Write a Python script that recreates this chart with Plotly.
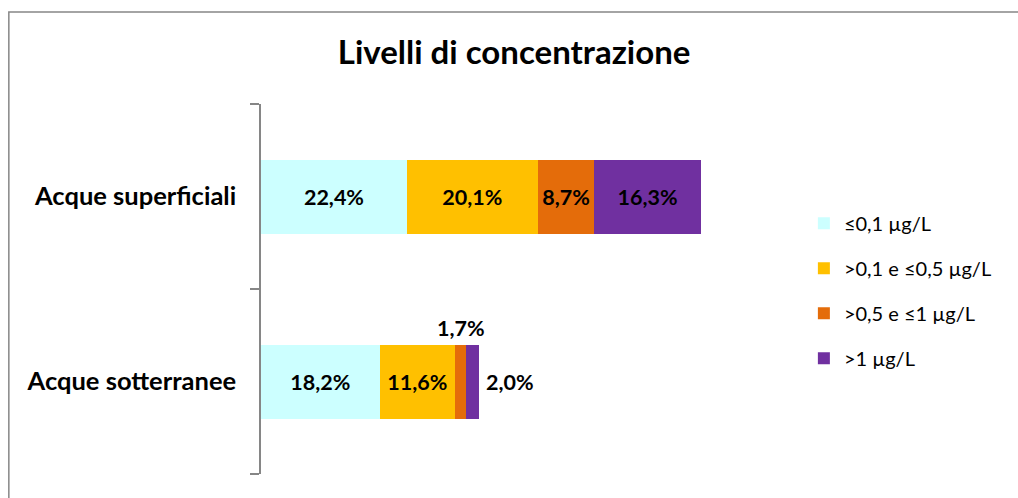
import plotly.graph_objects as go

# Share of monitoring points by concentration class (%)
categories = ["Acque superficiali", "Acque sotterranee"]
classes = ["≤0,1 µg/L", ">0,1 e ≤0,5 µg/L", ">0,5 e ≤1 µg/L", ">1 µg/L"]
values = [
    [22.4, 18.2],   # ≤0,1 µg/L
    [20.1, 11.6],   # >0,1 e ≤0,5 µg/L
    [8.7, 1.7],     # >0,5 e ≤1 µg/L
    [16.3, 2.0],    # >1 µg/L
]
colors = ["#CCFFFF", "#FFC000", "#E46C0A", "#7030A0"]

FONT = "Lato"
LABEL_SIZE = 21.5


def fmt(v):
    return f"{v:.1f}".replace(".", ",") + "%"


fig = go.Figure()
for k, (name, vals, col) in enumerate(zip(classes, values, colors)):
    # small segments on the second bar get their labels outside the bar
    texts = [fmt(v) if v >= 5 else "" for v in vals]
    fig.add_trace(go.Bar(
        y=categories, x=vals, name=name, orientation="h",
        marker=dict(color=col, line=dict(width=0)),
        text=texts, textposition="inside", insidetextanchor="middle",
        textangle=0,
        textfont=dict(family=FONT, size=LABEL_SIZE, color="black", weight="bold"),
        legendgroup=str(k),
        hoverinfo="skip",
    ))

# labels for the thin segments of the groundwater bar
base = sum(values[i][1] for i in range(2))
fig.add_annotation(
    x=base + values[2][1] / 2, y=categories[1], text=fmt(values[2][1]),
    showarrow=False, yshift=54,
    font=dict(family=FONT, size=LABEL_SIZE, color="black", weight="bold"),
)
fig.add_annotation(
    x=base + values[2][1] + values[3][1], y=categories[1], text=fmt(values[3][1]),
    showarrow=False, xanchor="left", xshift=5,
    font=dict(family=FONT, size=LABEL_SIZE, color="black", weight="bold"),
)

# chart frame
fig.add_shape(type="rect", xref="paper", yref="paper",
              x0=-0.484, x1=1.6, y0=-0.2, y1=1.2486,
              line=dict(color="#868686", width=1.5), layer="below")

fig.update_layout(
    width=1018, height=498,
    margin=dict(l=261, r=236, t=104, b=24),
    paper_bgcolor="white", plot_bgcolor="white",
    barmode="stack", bargap=0.6,
    title=dict(text="<b>Livelli di concentrazione</b>", x=0.505, xanchor="center",
               y=0.8956, yanchor="middle",
               font=dict(family=FONT, size=33, color="black")),
    showlegend=True,
    legend=dict(x=1.042, xanchor="left", y=0.495, yanchor="middle",
                traceorder="grouped", tracegroupgap=16,
                font=dict(family=FONT, size=20, color="black"),
                bgcolor="rgba(0,0,0,0)"),
    xaxis=dict(range=[0, 80], visible=False, fixedrange=True),
    yaxis=dict(
        categoryorder="array", categoryarray=categories[::-1],
        showline=True, linecolor="#868686", linewidth=1.5,
        ticks="outside", tickson="boundaries", ticklen=9, tickcolor="#868686",
        tickwidth=1.5, ticklabelstandoff=18,
        tickfont=dict(family=FONT, size=25.5, color="black", weight="bold"),
        showgrid=False, zeroline=False, fixedrange=True,
    ),
)

fig.write_html("out.html")
